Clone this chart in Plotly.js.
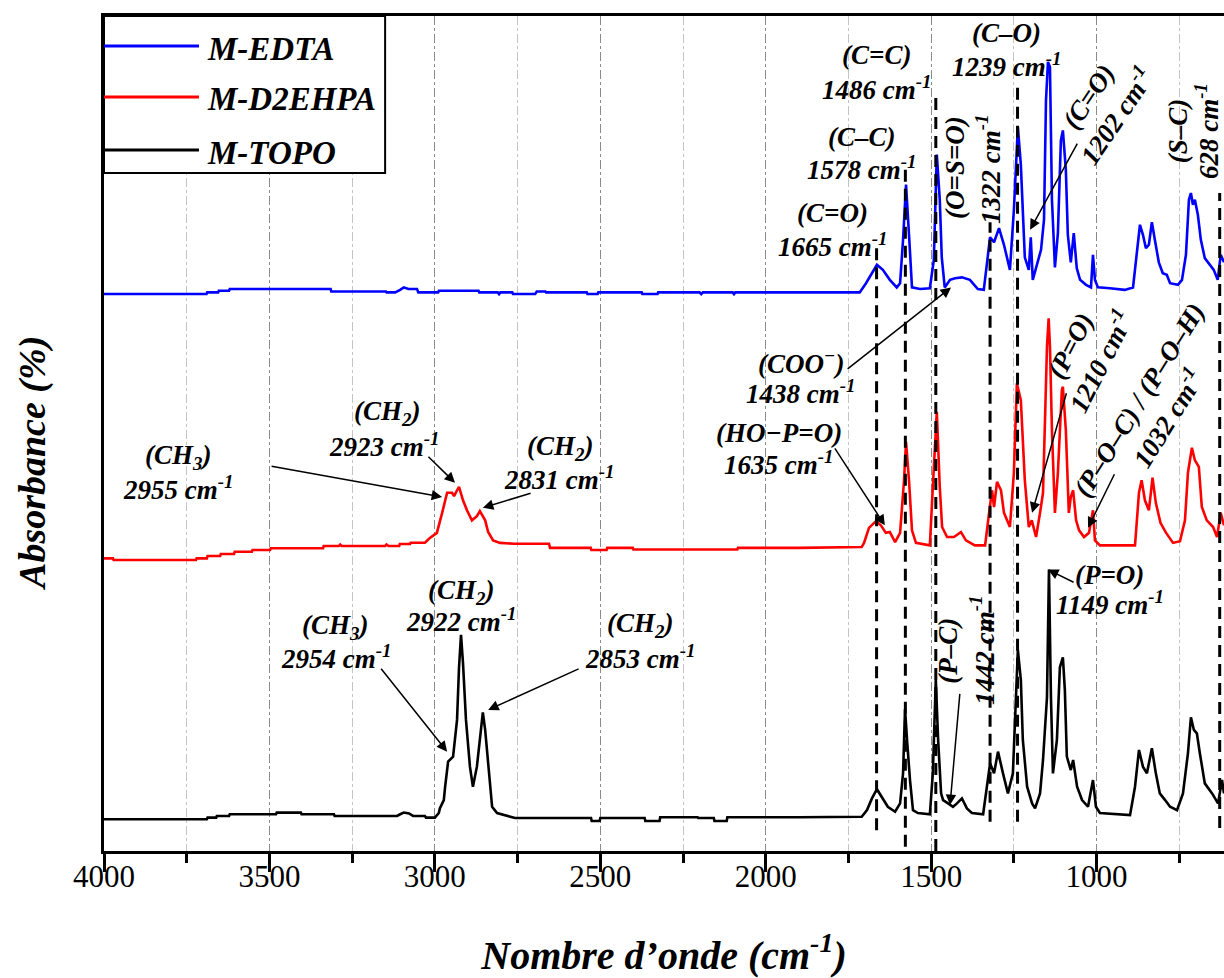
<!DOCTYPE html>
<html>
<head>
<meta charset="utf-8">
<script src="https://cdn.plot.ly/plotly-3.0.1.min.js"></script>
<style>html,body{margin:0;padding:0;background:#fff;}#chart{width:1224px;height:978px;}</style>
</head>
<body>
<div id="chart"></div>
<script>
// ---- Data: [wavenumber (cm-1), absorbance (arbitrary, offset)] ----
const seriesNames = ['M-EDTA', 'M-D2EHPA', 'M-TOPO'];
const seriesColors = ['#0000ff', '#ff0000', '#000000'];

const edta = [[4000,66.7],[3690,66.7],[3688,66.9],[3655,66.9],[3653,67.1],[3622,67.1],[3620,67.3],[3315,67.3],[3313,67.0],[3148,67.0],[3146,66.9],[3120,66.9],[3105,67.2],[3094,67.5],[3080,67.3],[3054,67.3],[3050,66.9],[2990,66.9],[2988,67.1],[2868,67.1],[2866,66.9],[2810,66.9],[2806,66.7],[2802,66.9],[2766,66.9],[2764,66.7],[2697,66.7],[2692,67.0],[2666,67.0],[2664,66.9],[2541,66.9],[2539,66.7],[2508,66.7],[2506,66.9],[2375,66.9],[2373,66.7],[2327,66.7],[2325,66.9],[2200,66.9],[2195,66.7],[2190,66.9],[2100,66.9],[2096,66.7],[2092,66.9],[1900,66.9],[1716,66.9],
[1697,68.0],[1679,69.3],[1664,70.2],[1646,69.6],[1625,68.4],[1604,67.5],[1594,68.0],[1585,73.2],[1576,79.8],[1567,73.8],[1558,67.5],[1534,67.3],[1504,67.4],[1492,70.8],[1483,83.4],[1474,78.0],[1468,71.1],[1459,67.5],[1443,68.4],[1428,68.6],[1407,68.7],[1383,68.4],[1359,67.3],[1341,67.2],[1331,70.2],[1322,73.5],[1310,72.9],[1295,74.6],[1280,72.6],[1262,69.6],[1250,76.8],[1238,86.7],[1229,82.2],[1217,71.1],[1205,69.6],[1199,73.5],[1193,68.4],[1180,70.2],[1168,72.0],[1159,75.6],[1153,89.9],[1147,94.5],[1141,93.9],[1135,78.0],[1126,69.9],[1117,74.0],[1108,85.1],[1102,86.3],[1093,81.6],[1087,73.8],[1078,70.5],[1069,74.0],[1060,69.8],[1050,68.4],[1032,67.8],[1017,67.5],[1011,71.4],[1005,68.4],[996,67.5],[960,67.4],[915,67.2],[890,67.5],[878,71.4],[869,75.0],[860,73.8],[851,72.2],[842,72.6],[833,75.3],[824,73.2],[812,70.5],[800,69.2],[788,69.0],[778,68.0],[754,67.8],[742,68.4],[730,71.4],[721,78.0],[715,78.8],[709,77.4],[703,78.0],[694,76.2],[685,73.2],[673,71.0],[658,70.2],[646,69.6],[634,68.4],[625,71.4],[615,70.5]];

const d2ehpa = [[4000,35.05],[3973,35.05],[3971,34.85],[3722,34.85],[3720,35.05],[3689,35.05],[3687,35.33],[3649,35.33],[3647,35.57],[3607,35.57],[3605,35.84],[3553,35.84],[3551,36.05],[3498,36.05],[3496,36.25],[3338,36.25],[3336,36.53],[3290,36.53],[3286,36.7],[3282,36.53],[3150,36.53],[3146,36.7],[3140,36.53],[3108,36.53],[3106,36.77],[3075,36.77],[3073,36.92],[3030,36.92],[3015,37.5],[2994,38.1],[2978,40.5],[2963,42.9],[2948,42.9],[2942,42.5],[2933,43.2],[2927,43.6],[2915,42.0],[2903,40.8],[2888,39.6],[2873,40.1],[2864,40.7],[2848,39.6],[2839,38.2],[2824,37.2],[2803,36.9],[2760,36.8],[2655,36.8],[2652,36.3],[2529,36.3],[2527,36.05],[2481,36.05],[2479,36.3],[2402,36.3],[2400,36.1],[2086,36.1],[2084,36.3],[1900,36.3],[1710,36.4],
[1703,36.9],[1688,38.7],[1667,39.5],[1652,39.0],[1637,38.1],[1625,38.2],[1609,37.0],[1594,38.1],[1582,44.4],[1576,49.0],[1567,44.4],[1558,38.4],[1546,36.9],[1504,36.6],[1495,43.6],[1483,52.6],[1474,43.6],[1467,38.8],[1452,37.6],[1431,37.6],[1410,38.2],[1395,37.2],[1368,36.6],[1337,36.6],[1325,40.5],[1316,43.2],[1310,41.2],[1301,44.2],[1289,43.2],[1280,40.5],[1262,38.8],[1250,45.3],[1241,56.0],[1229,54.0],[1217,44.4],[1205,38.8],[1196,39.6],[1183,37.6],[1171,40.5],[1162,42.9],[1156,51.6],[1150,60.4],[1145,63.8],[1141,60.4],[1135,50.4],[1126,40.5],[1117,45.3],[1105,55.2],[1102,55.6],[1093,50.4],[1084,40.5],[1078,42.4],[1071,43.2],[1062,39.6],[1053,38.4],[1038,37.6],[1023,38.1],[1011,40.8],[1005,37.2],[990,36.6],[884,36.6],[872,42.9],[864,44.4],[854,42.0],[842,40.8],[831,44.7],[821,41.7],[807,39.3],[790,38.1],[769,36.9],[748,37.1],[733,39.6],[724,45.3],[712,48.3],[703,46.8],[691,46.0],[682,41.2],[667,39.6],[648,38.8],[636,37.6],[625,40.5],[615,39.0]];

const topo = [[4000,3.8],[3689,3.8],[3687,4.0],[3661,4.0],[3659,4.2],[3622,4.2],[3620,4.4],[3480,4.4],[3478,4.6],[3405,4.6],[3403,4.4],[3305,4.4],[3303,4.2],[3114,4.2],[3105,4.4],[3094,4.6],[3078,4.5],[3066,4.2],[3030,4.2],[3027,4.0],[3000,4.0],[2988,4.55],[2985,5.1],[2973,6.1],[2969,7.7],[2960,10.7],[2945,11.3],[2933,15.7],[2927,22.0],[2921,25.9],[2915,22.5],[2906,15.7],[2894,10.1],[2885,7.7],[2873,10.1],[2861,14.9],[2855,16.6],[2848,14.5],[2839,10.1],[2827,5.3],[2812,4.55],[2782,4.2],[2758,3.95],[2528,3.95],[2526,3.6],[2502,3.6],[2500,3.95],[2366,3.95],[2364,3.6],[2321,3.6],[2319,4.05],[2206,4.05],[2204,3.95],[2157,3.95],[2155,3.6],[2118,3.6],[2116,4.05],[1900,4.05],[1710,4.1],
[1694,4.9],[1679,6.3],[1664,7.4],[1649,6.5],[1631,5.3],[1609,4.7],[1594,5.7],[1585,9.3],[1579,17.0],[1573,13.3],[1564,8.5],[1555,4.9],[1540,4.55],[1504,4.4],[1495,9.3],[1486,20.5],[1479,13.3],[1470,6.9],[1464,6.1],[1449,5.7],[1434,5.3],[1422,5.7],[1407,6.3],[1392,5.1],[1377,4.55],[1343,4.4],[1331,7.7],[1322,10.5],[1310,9.3],[1298,11.9],[1283,9.3],[1268,6.9],[1253,9.3],[1244,19.3],[1238,24.1],[1229,20.5],[1223,13.3],[1210,7.7],[1195,5.7],[1186,5.1],[1171,6.9],[1162,10.9],[1150,18.4],[1144,33.7],[1138,18.4],[1132,9.3],[1120,13.3],[1111,22.0],[1102,23.2],[1096,19.3],[1090,11.3],[1078,9.7],[1071,10.9],[1059,7.7],[1044,6.1],[1026,5.3],[1011,8.5],[1002,5.3],[990,4.55],[899,4.3],[884,7.7],[872,12.1],[860,10.1],[848,9.3],[833,12.3],[821,9.3],[809,6.9],[793,6.1],[778,5.3],[757,4.9],[739,6.9],[724,11.7],[715,16.0],[706,14.5],[697,14.1],[688,11.7],[673,8.1],[651,6.9],[633,5.7],[621,8.5],[615,6.9]];

// Band marker lines (dashed): wavenumber, top and bottom absorbance level
const bandWn = [1665, 1578, 1486, 1322, 1239, 628];
const bandTop = [72.3, 81.6, 90.8, 75.3, 91.7, 78.8];
const bandBottom = [2.5, 0.5, 0, 3.5, 3.5, 2.75];

// Peak labels: [text, wavenumber, level, angle]
const peakLabels = [
  ['(C=O)', 1797, 76.4, 0], ['1665 cm<sup>-1</sup>', 1797, 72.6, 0],
  ['(C–C)', 1709, 85.5, 0], ['1578 cm<sup>-1</sup>', 1709, 81.8, 0],
  ['(C=C)', 1664, 95.3, 0], ['1486 cm<sup>-1</sup>', 1664, 91.4, 0],
  ['(C–O)', 1271, 98.0, 0], ['1239 cm<sup>-1</sup>', 1271, 94.1, 0],
  ['(COO<sup>−</sup>)', 1893, 58.6, 0], ['1438 cm<sup>-1</sup>', 1893, 55.0, 0],
  ['(HO−P=O)', 1960, 50.1, 0], ['1635 cm<sup>-1</sup>', 1960, 46.5, 0],
  ['(CH<sub>2</sub>)', 3145, 52.5, 0], ['2923 cm<sup>-1</sup>', 3151, 48.6, 0],
  ['(CH<sub>2</sub>)', 2622, 48.3, 0], ['2831 cm<sup>-1</sup>', 2622, 44.7, 0],
  ['(CH<sub>3</sub>)', 3776, 47.2, 0], ['2955 cm<sup>-1</sup>', 3776, 43.5, 0],
  ['(CH<sub>2</sub>)', 2921, 31.0, 0], ['2922 cm<sup>-1</sup>', 2921, 27.7, 0],
  ['(CH<sub>3</sub>)', 3302, 26.8, 0], ['2954 cm<sup>-1</sup>', 3296, 23.2, 0],
  ['(CH<sub>2</sub>)', 2380, 27.1, 0], ['2853 cm<sup>-1</sup>', 2380, 23.2, 0],
  ['(P=O)', 960, 33.1, 0], ['1149 cm<sup>-1</sup>', 960, 29.7, 0],
  ['(O=S=O)', 1428, 81.8, -90], ['1322 cm<sup>-1</sup>', 1328, 81.7, -90],
  ['(S–C)', 754, 86.2, -90], ['628 cm<sup>-1</sup>', 667, 86.2, -90],
  ['(P–C)', 1449, 24.0, -90], ['1442 cm<sup>-1</sup>', 1346, 24.1, -90],
  ['(C=O)<br>1202 cm<sup>-1</sup>', 981, 89.2, -56],
  ['(P=O)<br>1210 cm<sup>-1</sup>', 1032, 59.6, -63],
  ['(P–O–C) / (P–O–H)<br>1032 cm<sup>-1</sup>', 827, 52.9, -58]
];

// Arrows: [head wn, head level, tail wn, tail level]
const peakArrows = [
  [2978, 42.4, 3498, 46.1], [2939, 44.1, 3024, 47.4], [2855, 41.1, 2706, 42.9],
  [1440, 67.5, 1757, 57.6], [1640, 39.0, 1794, 48.4], [1201, 74.4, 1056, 84.9],
  [1195, 40.5, 1090, 55.0], [1026, 38.7, 944, 45.3], [2963, 11.9, 3166, 22.0],
  [2839, 16.9, 2561, 21.9], [1443, 5.5, 1413, 19.0], [1147, 33.7, 1065, 32.1]
];

// ---- Build ----
const SERIF = "'Liberation Serif', 'Times New Roman', serif";
const labelFont = {family: SERIF, size: 27, color: '#000', weight: 'bold', style: 'italic'};

const traces = [edta, d2ehpa, topo].map((s, i) => ({
  type: 'scatter', mode: 'lines', name: seriesNames[i],
  x: s.map(p => p[0]), y: s.map(p => p[1]),
  line: {color: seriesColors[i], width: 2.6}, showlegend: false
}));

const shapes = bandWn.map((w, i) => ({
  type: 'line', xref: 'x', yref: 'y', x0: w, x1: w, y0: bandBottom[i], y1: bandTop[i],
  line: {color: '#000', width: 3, dash: '12px,7px'}, layer: 'above'
}));

// custom legend (box + lines)
shapes.push({type: 'rect', xref: 'paper', yref: 'paper', x0: 0, x1: 0.251, y0: 0.812, y1: 1,
  fillcolor: '#fff', line: {color: '#000', width: 2}, layer: 'above'});
const legY = [0.964, 0.903, 0.8395];
seriesNames.forEach((n, i) => {
  shapes.push({type: 'line', xref: 'paper', yref: 'paper', x0: 0, x1: 0.0848, y0: legY[i], y1: legY[i],
    line: {color: seriesColors[i], width: 3}, layer: 'above'});
});

const annotations = [];
peakLabels.forEach(l => annotations.push({
  text: l[0], x: l[1], y: l[2], xref: 'x', yref: 'y', textangle: l[3],
  showarrow: false, xanchor: 'center', yanchor: 'middle', font: labelFont
}));
peakArrows.forEach(a => annotations.push({
  text: '', x: a[0], y: a[1], ax: a[2], ay: a[3], xref: 'x', yref: 'y', axref: 'x', ayref: 'y',
  showarrow: true, arrowhead: 2, arrowsize: 1.4, arrowwidth: 1.5, arrowcolor: '#000', standoff: 0, startstandoff: 0
}));
seriesNames.forEach((n, i) => annotations.push({
  text: n, xref: 'paper', yref: 'paper', x: 0.0902, y: legY[i] - 0.003, xanchor: 'left', yanchor: 'middle',
  showarrow: false, font: {family: SERIF, size: 33, color: '#000', weight: 'bold', style: 'italic'}
}));
// y axis title
annotations.push({
  text: 'Absorbance (%)', xref: 'paper', yref: 'paper', x: -0.0634, y: 0.4647, textangle: -90,
  xanchor: 'center', yanchor: 'middle', showarrow: false,
  font: {family: SERIF, size: 38, color: '#000', weight: 'bold', style: 'italic'}
});

const layout = {
  width: 1224, height: 978,
  margin: {l: 104, r: 0, t: 16, b: 127, pad: 0},
  paper_bgcolor: '#fff', plot_bgcolor: '#fff', showlegend: false,
  font: {family: SERIF, color: '#000'},
  xaxis: {
    range: [4000, 615], autorange: false,
    tickmode: 'linear', tick0: 0, dtick: 500,
    ticks: 'outside', ticklen: 18, tickwidth: 3, tickcolor: '#000',
    ticklabelstandoff: -22,
    showline: true, linewidth: 3, linecolor: '#000', mirror: true,
    showgrid: true, gridcolor: '#8a8a8a', griddash: 'dashdot', gridwidth: 1,
    zeroline: false,
    tickfont: {family: SERIF, size: 31, color: '#000'},
    title: {text: 'Nombre d’onde (cm<sup>-1</sup>)', standoff: 50,
      font: {family: SERIF, size: 40, color: '#000', weight: 'bold', style: 'italic'}},
    minor: {tick0: 0, dtick: 250, ticks: 'outside', ticklen: 9, tickwidth: 3, tickcolor: '#000',
      showgrid: true, gridcolor: '#c4c4c4', griddash: 'dashdot', gridwidth: 1}
  },
  yaxis: {
    range: [0, 100], autorange: false, showline: true, linewidth: 3, linecolor: '#000',
    showticklabels: false, ticks: '', showgrid: false, zeroline: false
  },
  shapes: shapes,
  annotations: annotations
};

Plotly.newPlot('chart', traces, layout, {staticPlot: true, displayModeBar: false});
</script>
</body>
</html>
